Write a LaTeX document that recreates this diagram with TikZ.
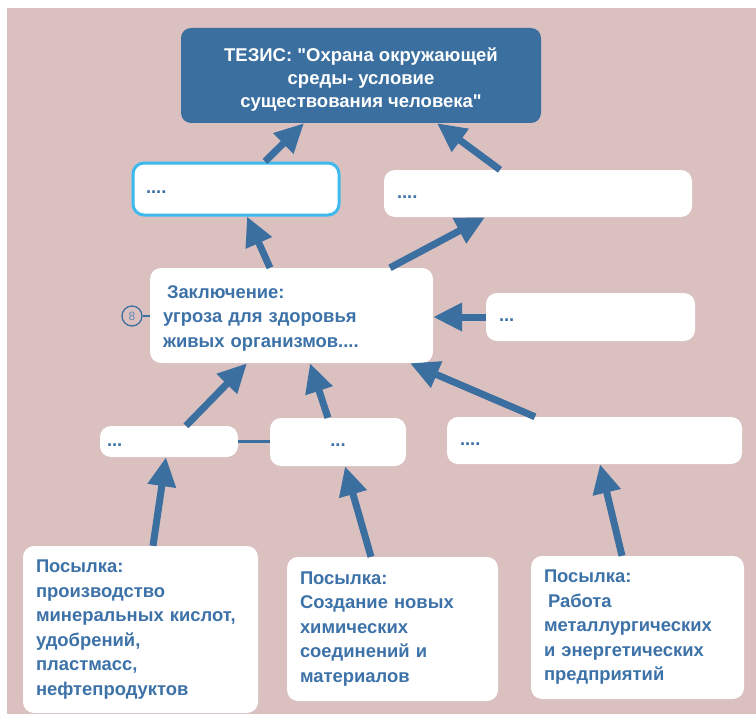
\documentclass[tikz,border=0pt]{standalone}
\usepackage{fontspec}
\setmainfont{Liberation Sans}
\usetikzlibrary{arrows.meta,calc}
\definecolor{bgpink}{HTML}{DBC0C0}
\definecolor{flowblue}{HTML}{3A6FA0}
\definecolor{textblue}{HTML}{3D72A8}
\definecolor{selcyan}{HTML}{3DB9EE}

\begin{document}
\begin{tikzpicture}[x=1pt,y=-1pt,
  card/.style={fill=white, rounded corners=11pt, inner xsep=13pt, inner ysep=0pt,
    font=\bfseries\fontsize{18.4}{24.5}\selectfont, text=textblue, align=left},
  dotsbox/.style={card, execute at begin node={\strut}},
  flow/.style={draw=flowblue, line width=7pt, -{Triangle[length=29pt,width=27pt]}},
  thin link/.style={draw=flowblue, line width=2.5pt},
]
\useasboundingbox (0,0) rectangle (756,717);
\fill[bgpink] (7,8) rectangle (756,714);

% thesis
\node[fill=flowblue, rounded corners=10pt, minimum width=360pt, minimum height=95pt,
  text=white, align=center, font=\bfseries\fontsize{18.5}{23}\selectfont]
  (thesis) at (361,75.5)
  {\rule{0pt}{22pt}ТЕЗИС: \textquotedbl Охрана окружающей\\ среды- условие\\ существования человека\textquotedbl};

% second row
\node[dotsbox, draw=selcyan, line width=3pt, text width=180pt, minimum height=52pt]
  (boxA) at (236,189) {....};
\node[dotsbox, text width=282pt, minimum height=47pt] (boxB) at (538,193.5) {....};

% conclusion
\node[card, text width=257pt, minimum height=95pt] (concl) at (291.5,315.5)
  {\rule{0pt}{18pt}\hspace*{4pt}Заключение:\\ угроза для здоровья\\ живых организмов....};
\node[dotsbox, text width=183pt, minimum height=48pt] (boxR) at (590.5,317) {...};
\node[circle, draw=flowblue, line width=1.3pt, minimum size=20pt, inner sep=0pt,
  font=\fontsize{12}{12}\selectfont, text=flowblue!80] (badge) at (132,316) {8};
\draw[thin link, line width=1.3pt] (badge.east) -- (concl.west |- badge.east);

% intermediate row
\node[dotsbox, inner xsep=7pt, text width=124pt, minimum height=31pt] (boxLL) at (169,441.5) {...};
\node[dotsbox, align=center, text width=110pt, minimum height=48pt] (boxLM) at (338,442) {...};
\node[dotsbox, text width=269pt, minimum height=47pt] (boxLR) at (594.5,440.5) {....};
\draw[thin link] (boxLL.east) -- (boxLM.west |- boxLL.east);

% premises
\node[card, text width=209pt, minimum height=167pt] (p1) at (140.5,629.5)
  {Посылка:\\ производство\\ минеральных кислот,\\ удобрений,\\ пластмасс,\\ нефтепродуктов};
\node[card, text width=185pt, minimum height=144pt] (p2) at (392.5,629)
  {Посылка:\\ Создание новых\\ химических\\ соединений и\\ материалов};
\node[card, text width=187pt, minimum height=143pt] (p3) at (637.5,627.5)
  {Посылка:\\ \hspace*{4pt}Работа\\ металлургических\\ и энергетических\\ предприятий};

% arrows
\draw[flow] ([xshift=29pt]boxA.north) -- ([xshift=-57pt]thesis.south);
\draw[flow] ([xshift=-38pt]boxB.north) -- ([xshift=76pt]thesis.south);
\draw[flow] ([xshift=-21.5pt]concl.north) -- ([xshift=11pt]boxA.south);
\draw[flow] ([xshift=98.5pt]concl.north) -- ([xshift=-53pt]boxB.south);
\draw[flow] (boxR.west) -- (concl.east |- boxR.west);
\draw[flow] ([xshift=-59.5pt]boxLR.north) -- ([xshift=118.5pt]concl.south);
\draw[flow] ([xshift=17pt]boxLL.north) -- ([xshift=-44.5pt]concl.south);
\draw[flow] ([xshift=-10pt]boxLM.north) -- ([xshift=18.5pt]concl.south);
\draw[flow] ([xshift=12.5pt]p1.north) -- ([xshift=-3pt]boxLL.south);
\draw[flow] ([xshift=-21.5pt]p2.north) -- ([xshift=7pt]boxLM.south);
\draw[flow] ([xshift=-15.5pt]p3.north) -- ([xshift=5.5pt]boxLR.south);
\end{tikzpicture}
\end{document}
